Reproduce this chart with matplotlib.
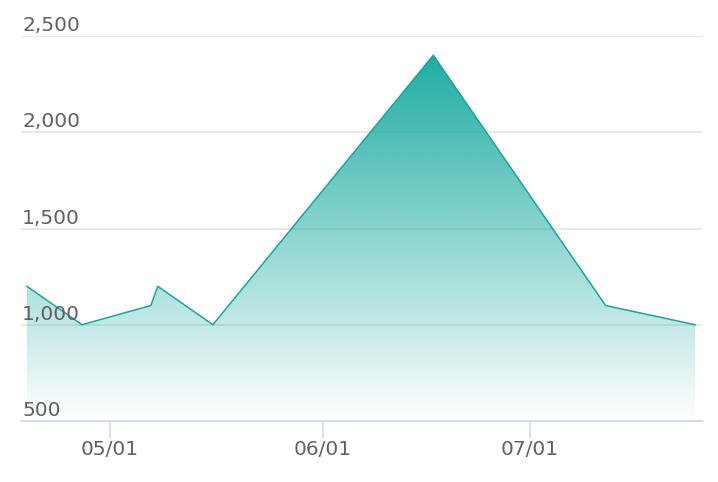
import matplotlib
matplotlib.use("Agg")
import matplotlib.pyplot as plt
import matplotlib.dates as mdates
import matplotlib.transforms as mtransforms
import numpy as np
import pandas as pd

# data
dates = ["2023-04-19", "2023-04-27", "2023-05-07", "2023-05-08",
         "2023-05-16", "2023-06-17", "2023-07-12", "2023-07-25"]
values = [1200, 1000, 1100, 1200, 1000, 2400, 1100, 1000]
y_ticks = [500, 1000, 1500, 2000, 2500]
y_tick_labels = ["500", "1,000", "1,500", "2,000", "2,500"]
x_ticks = ["2023-05-01", "2023-06-01", "2023-07-01"]
x_tick_labels = ["05/01", "06/01", "07/01"]

LINE = "#13a89e"
AXIS = "#d3d9ee"
GRID = "#e4e4e4"
TEXT = "#616161"

x = mdates.date2num(pd.to_datetime(dates))
y = np.array(values, dtype=float)

fig = plt.figure(figsize=(7.18, 4.82), dpi=100)
W, H = 718, 482
ax = fig.add_axes([21 / W, (H - 421) / H, (702 - 21) / W, (421 - 36) / H])

x_lo = x[0] - 0.85
x_hi = x[-1] + 1.0
ax.set_xlim(x_lo, x_hi)
ax.set_ylim(y_ticks[0], y_ticks[-1])

# gridlines, under the translucent fill
for v in y_ticks[1:]:
    ax.axhline(v, color=GRID, lw=1.2, zorder=1)

# gradient fill under the line
poly = ax.fill_between(x, y, y_ticks[0], color="none", lw=0)
grad = np.zeros((256, 1, 4))
rgb = matplotlib.colors.to_rgb(LINE)
grad[:, 0, 0], grad[:, 0, 1], grad[:, 0, 2] = rgb
grad[:, 0, 3] = np.linspace(0.0, 0.95, 256)
im = ax.imshow(grad, extent=[x_lo, x_hi, y_ticks[0], y.max()], origin="lower",
               aspect="auto", zorder=2, interpolation="bilinear")
im.set_clip_path(poly.get_paths()[0], transform=ax.transData)

ax.plot(x, y, color=LINE, lw=1.1, zorder=4)

# y labels sit above the gridlines
ax.set_yticks([])
off = mtransforms.offset_copy(ax.get_yaxis_transform(), fig=fig, x=1, y=1, units="dots")
for v, lab in zip(y_ticks, y_tick_labels):
    ax.text(0, v, lab, transform=off, ha="left", va="bottom",
            fontsize=14.5, color=TEXT, zorder=5)

ax.set_xticks(mdates.date2num(pd.to_datetime(x_ticks)))
ax.set_xticklabels(x_tick_labels)
ax.tick_params(axis="x", length=12, width=1.2, color=AXIS, pad=2,
               labelsize=14.5, labelcolor=TEXT)

for s in ["top", "right", "left"]:
    ax.spines[s].set_visible(False)
ax.spines["bottom"].set_color(AXIS)
ax.spines["bottom"].set_linewidth(1.5)
ax.spines["bottom"].set_zorder(6)

fig.savefig("out.png", dpi=100)
